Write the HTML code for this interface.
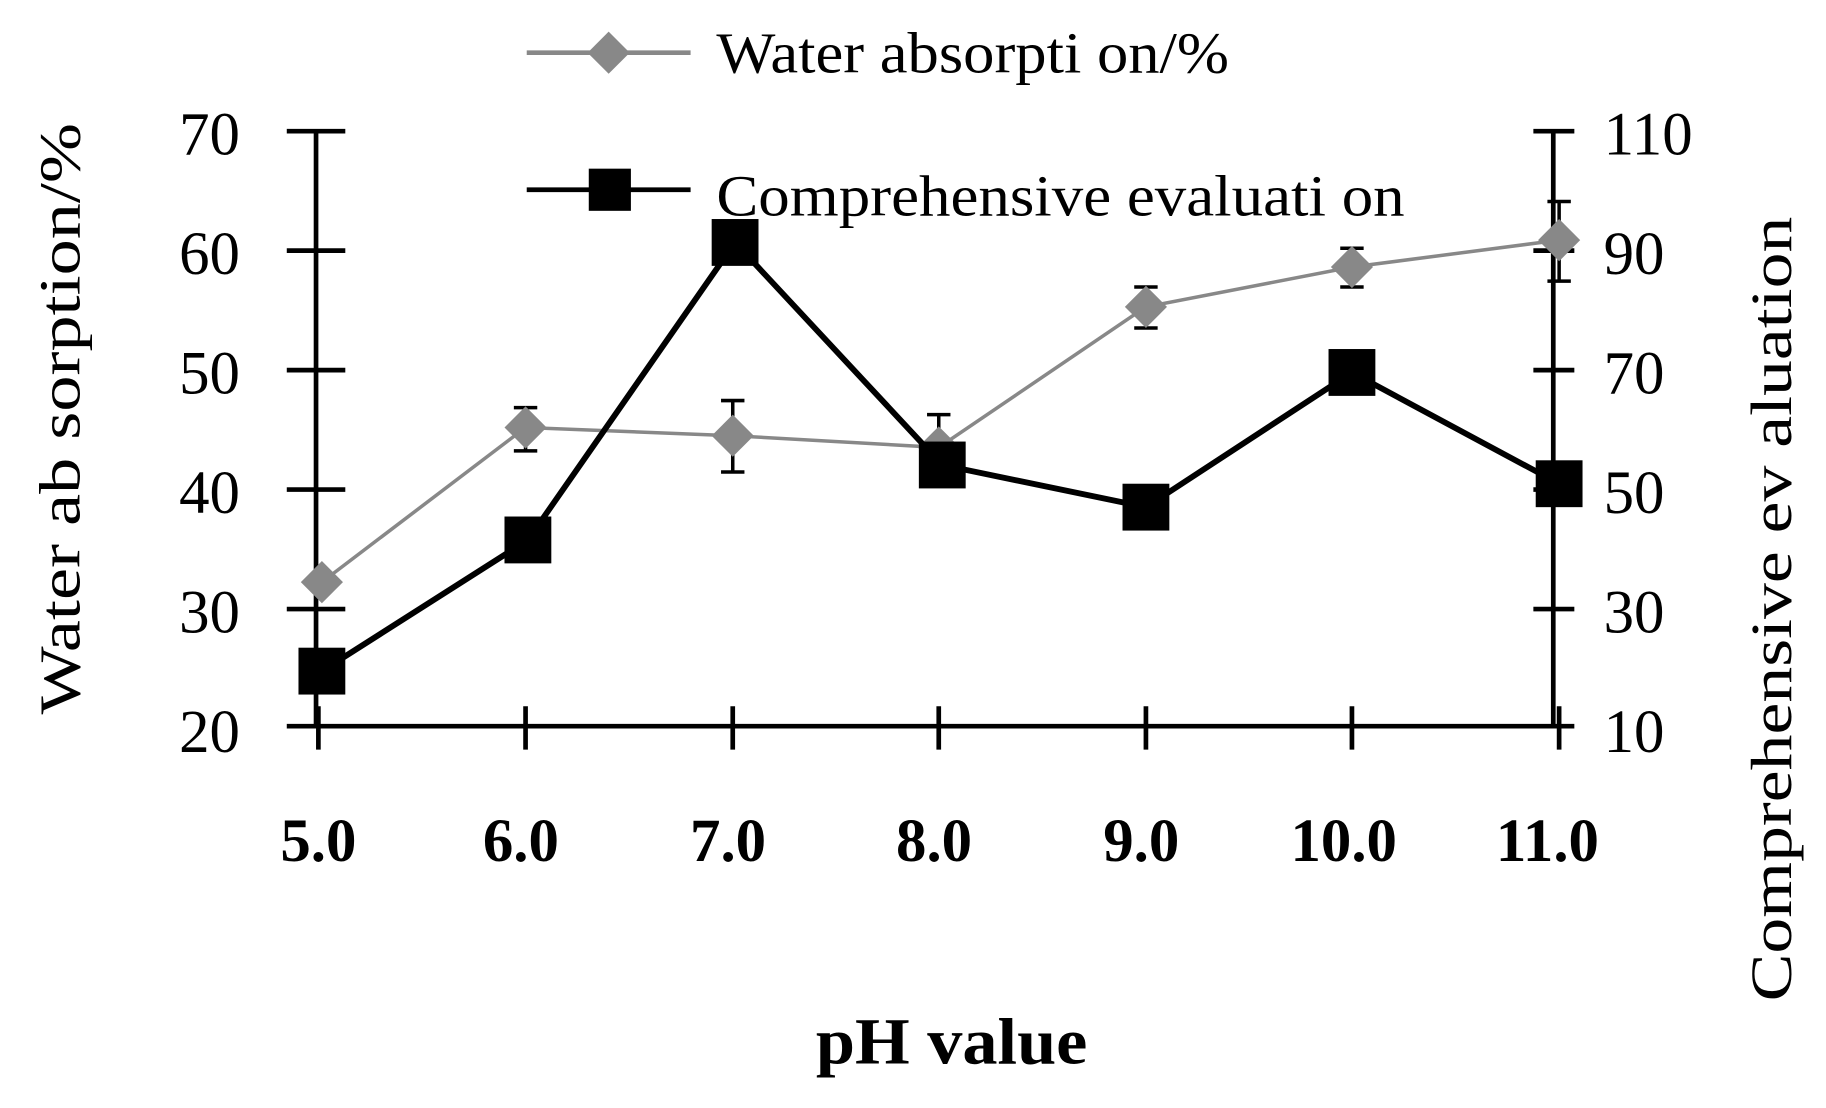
<!DOCTYPE html>
<html><head><meta charset="utf-8"><style>
html,body{margin:0;padding:0;background:#fff;width:1826px;height:1108px;overflow:hidden}
svg{display:block}
text{font-family:"Liberation Serif",serif;fill:#000}
</style></head><body>
<svg width="1826" height="1108" viewBox="0 0 1560 946" preserveAspectRatio="none">
<g stroke="#000" stroke-width="4" fill="none">
<line x1="270" y1="112" x2="270" y2="622"/>
<line x1="1327" y1="112" x2="1327" y2="622"/>
<line x1="245" y1="620" x2="1345" y2="620"/>
<path d="M245 112H295M245 214H295M245 316H295M245 418H295M245 520H295"/>
<path d="M1310 112H1345M1310 214H1345M1310 316H1345M1310 418H1345M1310 520H1345"/>
<path d="M272 603V640M449 603V640M626 603V640M802 603V640M979 603V640M1155 603V640M1332 603V640"/>
</g>
<g font-size="52" text-anchor="end">
<text x="205" y="132">70</text><text x="205" y="234">60</text><text x="205" y="336">50</text>
<text x="205" y="438">40</text><text x="205" y="540">30</text><text x="205" y="642">20</text>
</g>
<g font-size="52" text-anchor="start">
<text x="1370" y="132">110</text><text x="1370" y="234">90</text><text x="1370" y="336">70</text>
<text x="1370" y="438">50</text><text x="1370" y="540">30</text><text x="1370" y="642">10</text>
</g>
<g font-size="52" text-anchor="middle" font-weight="bold">
<text x="272" y="735">5.0</text><text x="445" y="735">6.0</text><text x="622" y="735">7.0</text>
<text x="798" y="735">8.0</text><text x="975" y="735">9.0</text><text x="1148" y="735">10.0</text><text x="1322" y="735">11.0</text>
</g>
<text x="697" y="908" font-size="56" font-weight="bold" textLength="232" lengthAdjust="spacingAndGlyphs">pH value</text>
<text transform="translate(68,610) rotate(-90)" font-size="50" textLength="505" lengthAdjust="spacingAndGlyphs">Water ab sorption/%</text>
<text transform="translate(1530,855) rotate(-90)" font-size="50" textLength="670" lengthAdjust="spacingAndGlyphs">Comprehensive ev aluation</text>
<g stroke="#888" stroke-width="3" fill="none">
<polyline points="275,497 449,365 626,372 802,382 979,262 1155,228 1332,205"/>
</g>
<g stroke="#000" stroke-width="3">
<path d="M449 348V385M439 348H459M439 385H459"/>
<path d="M626 342V403M616 342H636M616 403H636"/>
<path d="M802 354V395M792 354H812"/>
<path d="M979 245V280M969 245H989M969 280H989"/>
<path d="M1155 212V245M1145 212H1165M1145 245H1165"/>
<path d="M1332 172V240M1322 172H1342M1322 240H1342"/>
</g>
<g fill="#888">
<path d="M275 479L293 497L275 515L257 497Z"/>
<path d="M449 347L467 365L449 383L431 365Z"/>
<path d="M626 354L644 372L626 390L608 372Z"/>
<path d="M802 364L820 382L802 400L784 382Z"/>
<path d="M979 244L997 262L979 280L961 262Z"/>
<path d="M1155 210L1173 228L1155 246L1137 228Z"/>
<path d="M1332 187L1350 205L1332 223L1314 205Z"/>
</g>
<polyline points="275,573 451,461 628,207 805,397 979,433 1155,318 1332,413" stroke="#000" stroke-width="5" fill="none"/>
<g fill="#000">
<rect x="255" y="553" width="40" height="40"/><rect x="431" y="441" width="40" height="40"/>
<rect x="608" y="187" width="40" height="40"/><rect x="785" y="377" width="40" height="40"/>
<rect x="959" y="413" width="40" height="40"/><rect x="1135" y="298" width="40" height="40"/>
<rect x="1312" y="393" width="40" height="40"/>
</g>
<line x1="450" y1="45" x2="590" y2="45" stroke="#888" stroke-width="4"/>
<path d="M520 27L538 45L520 63L502 45Z" fill="#888"/>
<text x="612" y="62" font-size="50" textLength="438" lengthAdjust="spacingAndGlyphs">Water absorpti on/%</text>
<line x1="450" y1="162" x2="590" y2="162" stroke="#000" stroke-width="4"/>
<rect x="503" y="144" width="36" height="36" fill="#000"/>
<text x="612" y="184" font-size="50" textLength="588" lengthAdjust="spacingAndGlyphs">Comprehensive evaluati on</text>
</svg>
</body></html>
